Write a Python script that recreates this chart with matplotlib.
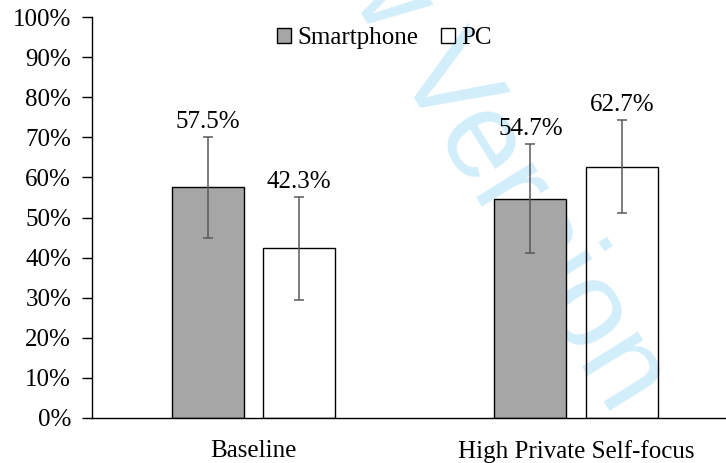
import numpy as np
import matplotlib
matplotlib.use('Agg')
import matplotlib.pyplot as plt
from matplotlib.ticker import FuncFormatter

categories = ['Baseline', 'High Private Self-focus']
smartphone = [57.5, 54.7]   # percent
pc = [42.3, 62.7]
smartphone_err = [12.5, 13.6]
pc_err = [12.8, 11.5]
series_names = ['Smartphone', 'PC']

plt.rcParams['font.family'] = ['Liberation Serif', 'DejaVu Serif']
plt.rcParams['font.size'] = 18

fig = plt.figure(figsize=(7.26, 4.63), dpi=100)
ax = fig.add_axes([92/726, 1 - 418/463, 1 - 92/726, (418 - 17)/463])
ax.patch.set_visible(False)  # let the watermark show through

x = np.arange(len(categories))
w = 0.223
off = 0.142
ekw = dict(ecolor='#595959', elinewidth=1.1, capsize=3.5, capthick=1.1)
b1 = ax.bar(x - off, smartphone, w, yerr=smartphone_err, color='#a6a6a6',
            edgecolor='black', linewidth=1, error_kw=ekw, label=series_names[0])
# PC bars are unfilled, so the watermark stays visible inside them
b2 = ax.bar(x + off, pc, w, yerr=pc_err, color='none',
            edgecolor='black', linewidth=1, error_kw=ekw, label=series_names[1])

# value labels above the error bars
for xs, vals, errs in [(x - off, smartphone, smartphone_err), (x + off, pc, pc_err)]:
    for xi, v, e in zip(xs, vals, errs):
        ax.annotate('%.1f%%' % v, (xi, v + e), xytext=(0, 3), textcoords='offset points',
                    ha='center', va='bottom', fontsize=18)

ax.set_xlim(-0.5, 1.464)
ax.set_ylim(0, 100)
ax.set_yticks(np.arange(0, 101, 10))
ax.yaxis.set_major_formatter(FuncFormatter(lambda v, p: '%d%%' % v))
ax.set_xticks(x)
ax.set_xticklabels(categories)
ax.tick_params(axis='x', length=0, pad=16)
ax.tick_params(axis='y', length=7, width=1, pad=8, direction='out')
for s in ['top', 'right']:
    ax.spines[s].set_visible(False)
ax.spines['left'].set_linewidth(1)
ax.spines['bottom'].set_linewidth(1)

fig.legend(handles=[b1, b2], labels=series_names, loc='center left',
           bbox_to_anchor=(277/726, 1 - 38/463), ncol=2, frameon=False,
           handlelength=0.56, handleheight=0.56, handletextpad=0.25,
           columnspacing=0.9, borderpad=0, borderaxespad=0, fontsize=18)

# watermark behind the chart (runs off the top edge, as in the source)
fig.text(498/726, 1 - 173/463, 'w Version', family='Liberation Sans', fontsize=89,
         rotation=-58, ha='center', va='center', color='#d2eefa', zorder=-1)

fig.savefig('out.png', dpi=100)
